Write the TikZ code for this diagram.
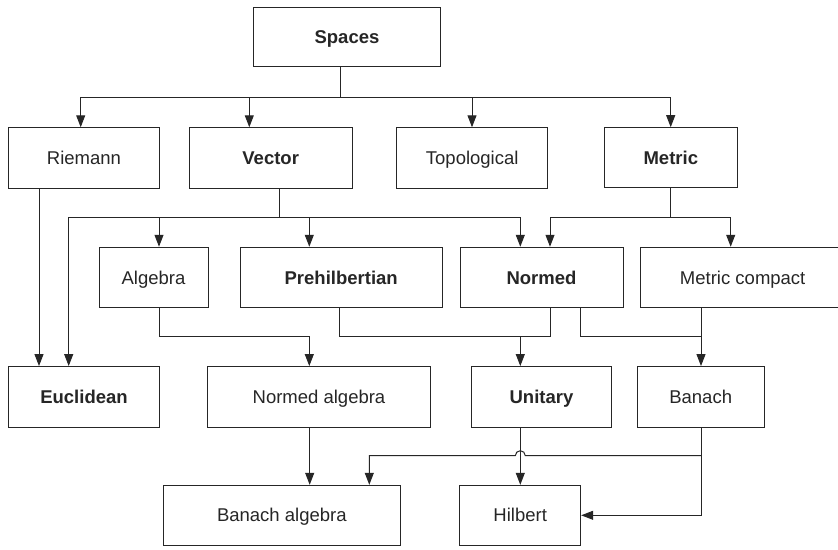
\documentclass[tikz,border=0pt]{standalone}
\usepackage{fontspec}
\setmainfont{Liberation Sans}
\usetikzlibrary{arrows.meta}
\definecolor{ink}{HTML}{262626}
\tikzset{
  box/.style={draw=ink, line width=1pt, text=ink, inner sep=0pt,
    text height=13.3pt, text depth=0pt,
    minimum height=60.5pt, font=\fontsize{18.5pt}{22pt}\selectfont},
  wire/.style={draw=ink, line width=1pt},
  arr/.style={wire, -{Triangle[length=12pt,width=9pt]}}
}
\begin{document}
\begin{tikzpicture}[x=1pt,y=-1pt]
\clip (0,0) rectangle (838,549);
\fill[white] (0,0) rectangle (838,549);

% row 1
\node[box, minimum width=187.4pt, minimum height=58.7pt] (spaces) at (347,36.7) {\textbf{Spaces}};
% row 2
\node[box, minimum width=151.4pt] (riemann) at (84,158) {Riemann};
\node[box, minimum width=163.3pt] (vector) at (270.7,158) {\textbf{Vector}};
\node[box, minimum width=151pt] (topological) at (472.2,158) {Topological};
\node[box, minimum width=133pt, minimum height=59.6pt] (metric) at (670.8,157.5) {\textbf{Metric}};
% row 3
\node[box, minimum width=109pt] (algebra) at (153.5,277.5) {Algebra};
\node[box, minimum width=202.3pt] (prehilb) at (341.2,277.5) {\textbf{Prehilbertian}};
\node[box, minimum width=163pt] (normed) at (541.5,277.5) {\textbf{Normed}};
\node[box, minimum width=204pt] (metcomp) at (742.7,277.5) {Metric compact};
% row 4
\node[box, minimum width=151.4pt] (euclid) at (84,396.8) {\textbf{Euclidean}};
\node[box, minimum width=223.4pt] (normalg) at (319,396.8) {Normed algebra};
\node[box, minimum width=139.6pt] (unitary) at (541.5,396.8) {\textbf{Unitary}};
\node[box, minimum width=127.3pt] (banach) at (700.7,396.8) {Banach};
% row 5
\node[box, minimum width=237pt, minimum height=60pt] (banalg) at (281.8,515.3) {Banach algebra};
\node[box, minimum width=121pt, minimum height=60pt] (hilbert) at (520.2,515.3) {Hilbert};

% Spaces -> first level
\coordinate (hubS) at (340,97.7);
\draw[wire] (340,0 |- spaces.south) -- (hubS);
\draw[arr] (hubS) -| (80.7,0 |- riemann.north);
\draw[arr] (hubS) -| (249.3,0 |- vector.north);
\draw[arr] (hubS) -| (472,0 |- topological.north);
\draw[arr] (hubS) -| (670.7,0 |- metric.north);

% Riemann -> Euclidean
\draw[arr] (39,0 |- riemann.south) -- (39,0 |- euclid.north);

% Vector -> Euclidean, Algebra, Prehilbertian, Normed
\coordinate (hubV) at (279.3,217.7);
\draw[wire] (279.3,0 |- vector.south) -- (hubV);
\draw[arr] (hubV) -| (68.7,0 |- euclid.north);
\draw[arr] (hubV) -| (159,0 |- algebra.north);
\draw[arr] (hubV) -| (309.3,0 |- prehilb.north);
\draw[arr] (hubV) -| (520.3,0 |- normed.north);

% Metric -> Normed, Metric compact
\coordinate (hubM) at (670.7,217.7);
\draw[wire] (670.7,0 |- metric.south) -- (hubM);
\draw[arr] (hubM) -| (550,0 |- normed.north);
\draw[arr] (hubM) -| (730.7,0 |- metcomp.north);

% Algebra -> Normed algebra
\draw[arr] (159,0 |- algebra.south) |- (309.3,336.7) -- (309.3,0 |- normalg.north);

% Prehilbertian + Normed -> Unitary
\coordinate (hubU) at (520.3,336.7);
\draw[wire] (339.3,0 |- prehilb.south) |- (550,336.7);
\draw[wire] (550,0 |- normed.south) -- (550,336.7);
\draw[arr] (hubU) -- (520.3,0 |- unitary.north);

% Normed + Metric compact -> Banach
\draw[wire] (580,0 |- normed.south) |- (701,336.7);
\draw[arr] (701,0 |- metcomp.south) -- (701,0 |- banach.north);

% Normed algebra -> Banach algebra
\draw[arr] (309.7,0 |- normalg.south) -- (309.7,0 |- banalg.north);

% Unitary -> Hilbert
\draw[arr] (520.3,0 |- unitary.south) -- (520.3,0 |- hilbert.north);

% Banach -> Hilbert, Banach algebra (hopping over the Unitary line)
\draw[arr] (701,0 |- banach.south) |- (hilbert.east);
\draw[arr] (701,455.7) -- (525.3,455.7) arc[start angle=0,end angle=180,radius=5pt]
  -- (369.3,455.7) -- (369.3,0 |- banalg.north);
\end{tikzpicture}
\end{document}
